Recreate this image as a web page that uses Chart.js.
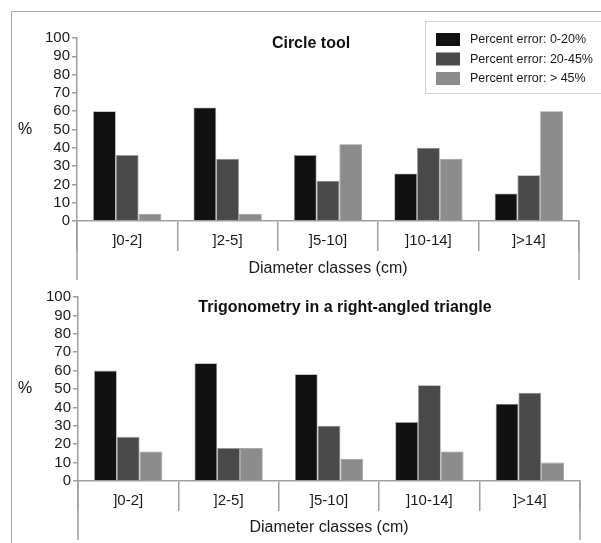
<!DOCTYPE html>
<html>
<head>
<meta charset="utf-8">
<script src="https://cdn.jsdelivr.net/npm/chart.js@4"></script>
<style>
  body { margin: 0; background: #fff; }
  #page { position: relative; width: 601px; height: 543px; overflow: hidden; }
  #frame {
    position: absolute; left: 11px; top: 11px; right: -5px; bottom: -5px;
    border-top: 1px solid #a8a8a8; border-left: 1px solid #a8a8a8;
  }
  canvas { position: absolute; left: 0; }
  #circle { top: 0; }
  #trig { top: 283px; }
</style>
</head>
<body>
<div id="page">
  <div id="frame"></div>
  <canvas id="circle" width="601" height="283"></canvas>
  <canvas id="trig" width="601" height="260"></canvas>
</div>
<script>
const categories = [']0-2]', ']2-5]', ']5-10]', ']10-14]', ']>14]'];
const seriesLabels = ['Percent error: 0-20%', 'Percent error: 20-45%', 'Percent error: > 45%'];
const yTickValues = [0, 10, 20, 30, 40, 50, 60, 70, 80, 90, 100];

// Circle tool
const circleLow = [60, 62, 36, 26, 15];
const circleMid = [36, 34, 22, 40, 25];
const circleHigh = [4, 4, 42, 34, 60];

// Trigonometry in a right-angled triangle
const trigLow = [60, 64, 58, 32, 42];
const trigMid = [24, 18, 30, 52, 48];
const trigHigh = [16, 18, 12, 16, 10];

const barColors = ['#111111', '#4a4a4a', '#8c8c8c'];
const axisGray = '#a0a0a0';
const FONT = '"Liberation Sans", Arial, Helvetica, sans-serif';

const panelDecor = {
  id: 'panelDecor',
  afterDraw(chart, args, opts) {
    const {
      ctx,
      chartArea: { left, right, bottom },
    } = chart;
    ctx.save();
    // sides of the box under the x axis
    ctx.strokeStyle = axisGray;
    ctx.lineWidth = 1.5;
    ctx.beginPath();
    ctx.moveTo(left, bottom);
    ctx.lineTo(left, bottom + opts.boxDepth);
    ctx.moveTo(right, bottom);
    ctx.lineTo(right, bottom + opts.boxDepth);
    ctx.stroke();

    // panel title
    ctx.fillStyle = '#111';
    ctx.textAlign = 'center';
    ctx.textBaseline = 'middle';
    ctx.font = 'bold 16px ' + FONT;
    ctx.fillText(opts.title, (left + right) / 2 + opts.titleShift, opts.titleY);

    // unit label
    ctx.font = '16px ' + FONT;
    ctx.fillText('%', 25, chart.scales.y.getPixelForValue(50));

    if (opts.legend) {
      const lx = 425, ly = 21;
      ctx.strokeStyle = '#cfcfcf';
      ctx.lineWidth = 1;
      ctx.strokeRect(lx + 0.5, ly + 0.5, 190, 72);
      ctx.textAlign = 'left';
      ctx.font = '12.5px ' + FONT;
      chart.data.datasets.forEach((ds, i) => {
        const rowY = ly + 12 + i * 19.5;
        ctx.fillStyle = ds.backgroundColor;
        ctx.fillRect(lx + 11, rowY, 24, 13);
        ctx.fillStyle = '#1a1a1a';
        ctx.fillText(ds.label, lx + 45, rowY + 7);
      });
    }
    ctx.restore();
  },
};

function makePanel(canvasId, values, decor, pad, yWidth, titlePad) {
  return new Chart(document.getElementById(canvasId), {
    type: 'bar',
    data: {
      labels: categories,
      datasets: values.map((vals, i) => ({
        label: seriesLabels[i],
        data: vals,
        backgroundColor: barColors[i],
        borderColor: 'rgba(110,110,110,0.7)',
        borderWidth: 0.8,
        barPercentage: 1,
        categoryPercentage: 0.68,
      })),
    },
    options: {
      responsive: false,
      animation: false,
      layout: { padding: pad },
      scales: {
        x: {
          grid: {
            display: true,
            drawOnChartArea: false,
            drawTicks: true,
            tickLength: 30,
            color: axisGray,
            lineWidth: 1.5,
          },
          border: { display: true, color: axisGray, width: 1.5 },
          ticks: {
            color: '#1a1a1a',
            font: { family: FONT, size: 15 },
            padding: -19,
          },
          title: {
            display: true,
            text: 'Diameter classes (cm)',
            color: '#1a1a1a',
            font: { family: FONT, size: 16 },
            padding: { top: 0, bottom: titlePad },
          },
          afterFit: (scale) => {
            scale.height = 62;
          },
        },
        y: {
          min: 0,
          max: 100,
          afterBuildTicks: (scale) => {
            scale.ticks = yTickValues.map((v) => ({ value: v }));
          },
          grid: {
            display: true,
            drawOnChartArea: false,
            drawTicks: true,
            tickLength: 5,
            color: axisGray,
            lineWidth: 1.5,
          },
          border: { display: true, color: axisGray, width: 1.5 },
          ticks: {
            autoSkip: false,
            color: '#1a1a1a',
            font: { family: FONT, size: 15 },
            padding: 2,
          },
          afterFit: (scale) => {
            scale.width = yWidth;
          },
        },
      },
      plugins: {
        legend: { display: false },
        tooltip: { enabled: false },
        panelDecor: decor,
      },
    },
    plugins: [panelDecor],
  });
}

makePanel(
  'circle',
  [circleLow, circleMid, circleHigh],
  { title: 'Circle tool', titleShift: -17, titleY: 44, boxDepth: 59, legend: true },
  { top: 38, right: 22, left: 0, bottom: 0 },
  77,
  5
);

makePanel(
  'trig',
  [trigLow, trigMid, trigHigh],
  { title: 'Trigonometry in a right-angled triangle', titleShift: 16, titleY: 25, boxDepth: 59, legend: false },
  { top: 14, right: 21, left: 0, bottom: 0 },
  78,
  6
);
</script>
</body>
</html>
